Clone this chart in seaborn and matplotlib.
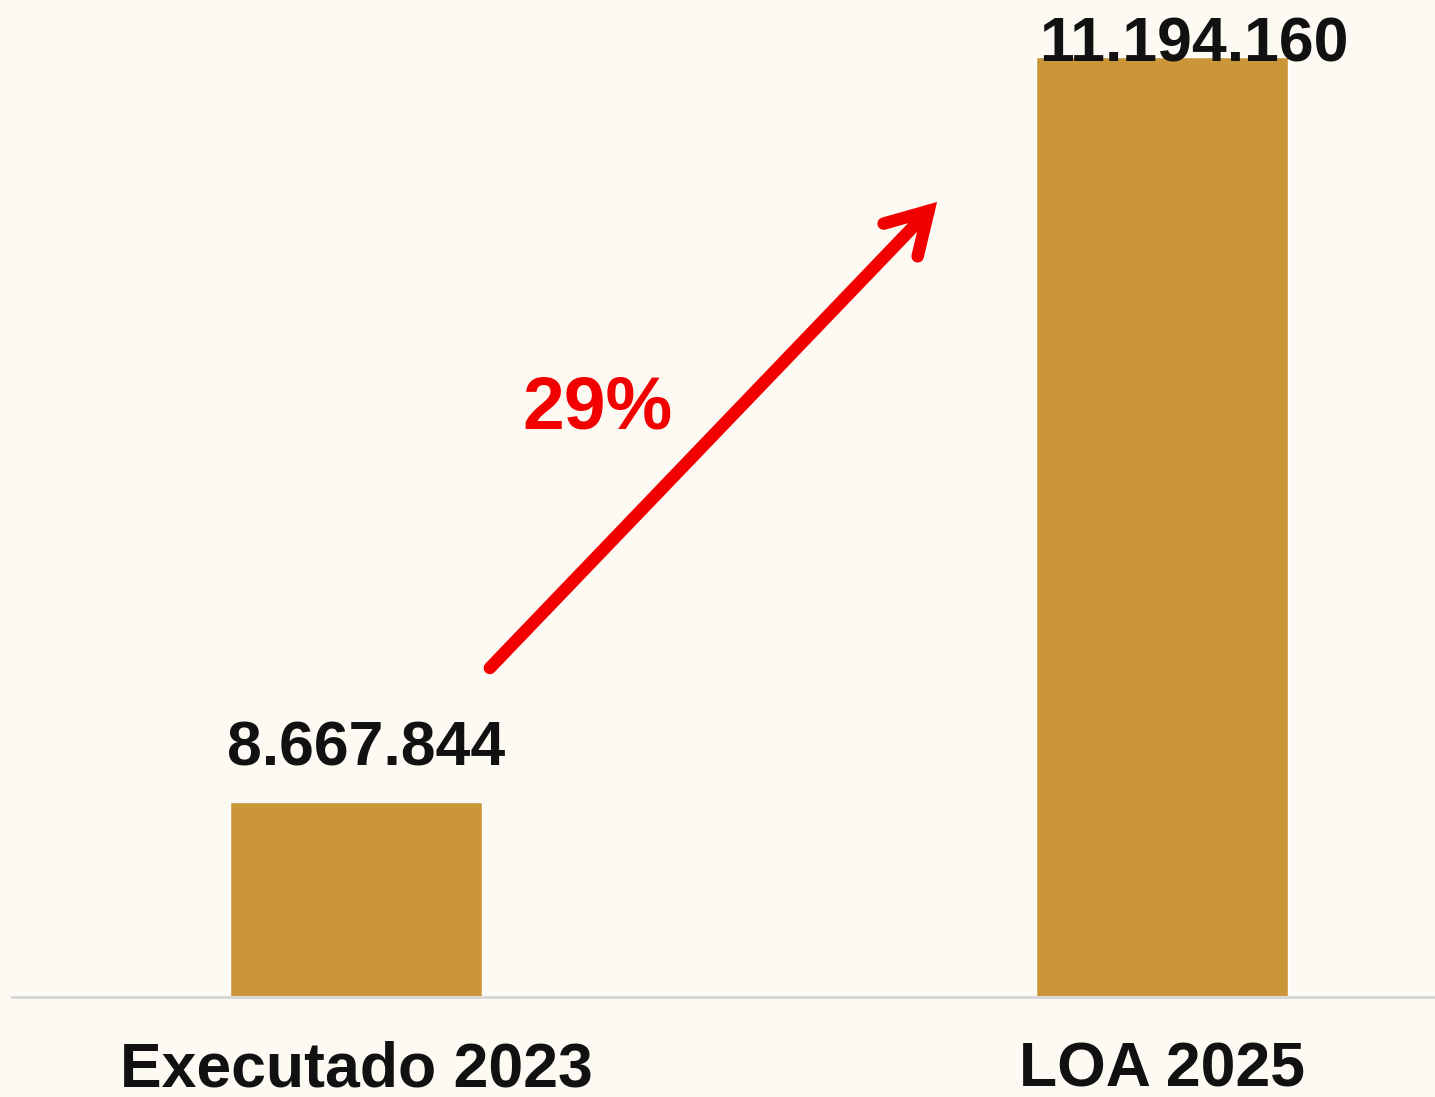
import matplotlib
matplotlib.use("Agg")
import matplotlib.pyplot as plt
import seaborn as sns
import pandas as pd

categories = ["Executado 2023", "LOA 2025"]
values = [8667844, 11194160]
value_labels = ["8.667.844", "11.194.160"]
growth_label = "29%"

bar_color = "#CB9637"
bg_color = "#FDFAF4"

sns.set_style("white")
plt.rcParams["font.family"] = ["Liberation Sans", "DejaVu Sans"]

df = pd.DataFrame({"categoria": categories, "valor": values})

fig = plt.figure(figsize=(14.35, 10.97), dpi=100, facecolor=bg_color)
ax = fig.add_axes([0.0084, 0.0912, 0.9916, 0.9088])
ax.set_facecolor(bg_color)

sns.barplot(data=df, x="categoria", y="valor", color=bar_color, width=0.313,
            saturation=1, ax=ax)

ax.set_xlim(-0.427, 1.339)
ax.set_ylim(8006600, 11387400)

# value labels above bars
offsets = [(7, 26.5), (23, -3.6)]
for i, (v, lab) in enumerate(zip(values, value_labels)):
    ax.annotate(lab, xy=(i, v), xytext=offsets[i], textcoords="offset points",
                ha="center", va="baseline", fontsize=45, fontweight="bold",
                color="#111111", annotation_clip=False)

# growth arrow between the bars
ax.annotate("", xy=(0.721, 10702400), xytext=(0.166, 9122200),
            arrowprops=dict(arrowstyle="->,head_length=2.9,head_width=1.7",
                            color="#F20000", lw=9, shrinkA=0, shrinkB=0,
                            joinstyle="miter"))
ax.text(0.30, 10000000, growth_label, color="#F20000", fontsize=54,
        fontweight="bold", ha="center", va="center")

sns.despine(ax=ax, left=True, top=True, right=True)
ax.spines["bottom"].set_color("#D8D8D8")
ax.spines["bottom"].set_linewidth(2.2)
ax.set_yticks([])
ax.set_xlabel("")
ax.set_ylabel("")
ax.tick_params(axis="x", length=0, pad=31, labelsize=45)
for t in ax.get_xticklabels():
    t.set_fontweight("bold")
    t.set_color("#111111")

fig.savefig("out.png", dpi=100, facecolor=bg_color)
